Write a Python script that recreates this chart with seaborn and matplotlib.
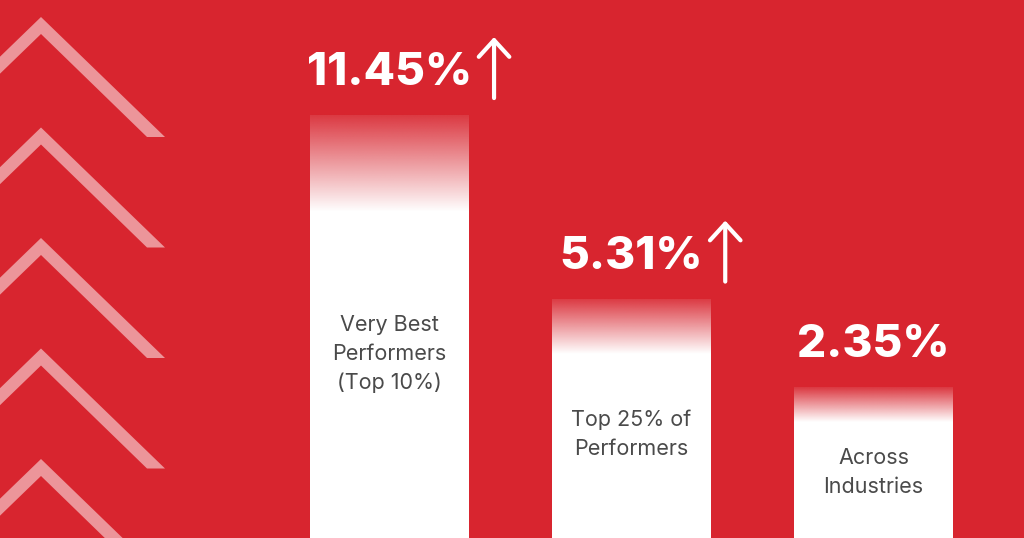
import numpy as np
import matplotlib
matplotlib.use("Agg")
import matplotlib.pyplot as plt
from matplotlib.patches import Polygon
from matplotlib.colors import to_rgb
import seaborn as sns

# data
categories = ["Very Best\nPerformers\n(Top 10%)", "Top 25% of\nPerformers", "Across\nIndustries"]
values = [11.45, 5.31, 2.35]
arrow_up = [True, True, False]

RED = "#D8252F"
PINK = "#EC959A"
GREY = "#4A4A4A"

sns.set_theme(style="white")
plt.rcParams["font.family"] = ["Inter", "DejaVu Sans"]

W, H = 1024, 538
fig = plt.figure(figsize=(W / 100, H / 100), dpi=100, facecolor=RED)
ax = fig.add_axes([0, 0, 1, 1])
ax.set_facecolor(RED)

# decorative chevrons on the left (figure pixels, y from top)
def px(x, y):
    return (x / W, 1 - y / H)

for k in range(5):
    dy = k * 110.5
    s = 0.968
    pts = [(-30, 17 + 71 * s), (41, 17), (165, 137), (147, 137), (41, 34), (-30, 34 + 71 * s)]
    poly = Polygon([px(x, y + dy) for x, y in pts], closed=True, transform=fig.transFigure,
                   facecolor=PINK, edgecolor="none", zorder=0)
    fig.patches.append(poly)

sns.barplot(x=list(range(len(values))), y=values, color="white", saturation=1,
            width=0.661, linewidth=0, ax=ax, zorder=2)

ymin, ymax = -2.70, 15.30
xlo, xhi = -1.6095, 2.622

r, g, b = to_rgb(RED)
n = 200
for p, v in zip(ax.patches, values):
    x0, w = p.get_x(), p.get_width()
    p.set_y(ymin)
    p.set_height(v - ymin)
    fade = 0.23 * (v - ymin)
    grad = np.zeros((n, 1, 4))
    grad[..., 0], grad[..., 1], grad[..., 2] = r, g, b
    grad[:, 0, 3] = np.linspace(0.92, 0.0, n)
    ax.imshow(grad, extent=[x0, x0 + w, v - fade, v], origin="upper",
              aspect="auto", interpolation="bilinear", zorder=3)

ax.set_xlim(xlo, xhi)
ax.set_ylim(ymin, ymax)
ax.axis("off")

fig.canvas.draw()
renderer = fig.canvas.get_renderer()

for i, (cat, v, up) in enumerate(zip(categories, values, arrow_up)):
    # label inside bar
    ly = v - 0.565 * (v - ymin)
    ax.text(i, ly, cat, ha="center", va="center", color=GREY, fontsize=15.5,
            linespacing=1.55, zorder=5)
    # value above bar
    t = ax.annotate(f"{v:.2f}%", xy=(i, v), xytext=(0, 30), textcoords="offset pixels",
                    ha="center", va="baseline", color="white", fontsize=33,
                    fontweight=800, zorder=5)
    if up:
        fig.canvas.draw()
        bb = t.get_window_extent(renderer)
        base = ax.transData.transform((i, v))[1] + 30
        ax_x = bb.x1 + 22
        ax.annotate("", xy=(ax_x, base + 48), xytext=(ax_x, base - 13),
                    xycoords="figure pixels", textcoords="figure pixels",
                    arrowprops=dict(arrowstyle="->,head_length=0.6,head_width=0.55",
                                    lw=3.0, color="white", shrinkA=0, shrinkB=0,
                                    mutation_scale=20, capstyle="round"))

fig.savefig("out.png", dpi=100, facecolor=RED)
